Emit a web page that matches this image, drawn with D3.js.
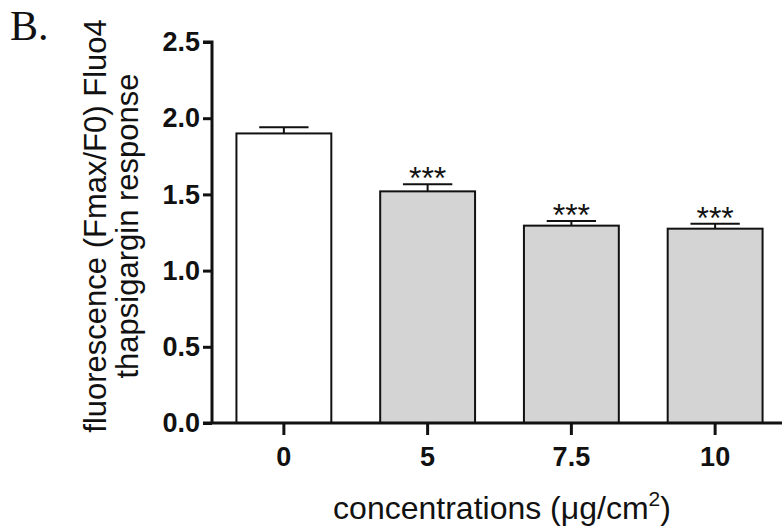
<!DOCTYPE html>
<html>
<head>
<meta charset="utf-8">
<script src="https://cdn.jsdelivr.net/npm/d3@7"></script>
<style>
  body { margin: 0; background: #fff; }
  svg { display: block; }
</style>
</head>
<body>
<div id="vis"></div>
<script>
// data
const concentrations = ["0", "5", "7.5", "10"];
const meanValues = [1.90, 1.52, 1.295, 1.275];
const semValues = [0.04, 0.046, 0.031, 0.033];
const significance = ["", "***", "***", "***"];
const yTicks = [0.0, 0.5, 1.0, 1.5, 2.0, 2.5];

const width = 782;
const height = 531;
const axisX = 212;
const axisY = 423;

const svg = d3.select("#vis")
  .append("svg")
  .attr("width", width)
  .attr("height", height);

// Scales
const x = d3.scaleBand()
  .domain(concentrations)
  .range([axisX, 787])
  .paddingInner(0.34)
  .paddingOuter(0.17);

const y = d3.scaleLinear()
  .domain([0, 2.5])
  .range([axisY, 42]);

// Bars
svg.append("g")
  .selectAll("rect")
  .data(meanValues)
  .enter()
  .append("rect")
  .attr("x", (d, i) => x(concentrations[i]))
  .attr("y", d => y(d))
  .attr("width", x.bandwidth())
  .attr("height", d => axisY - y(d))
  .attr("fill", (d, i) => i === 0 ? "#ffffff" : "#d4d4d4")
  .attr("stroke", "#111")
  .attr("stroke-width", 2);

// Error bars (upper only)
const capHalf = x.bandwidth() * 0.26;
const err = svg.append("g").attr("stroke", "#111").attr("stroke-width", 2);
meanValues.forEach((m, i) => {
  const cx = x(concentrations[i]) + x.bandwidth() / 2;
  err.append("line")
    .attr("x1", cx).attr("x2", cx)
    .attr("y1", y(m)).attr("y2", y(m + semValues[i]));
  err.append("line")
    .attr("x1", cx - capHalf).attr("x2", cx + capHalf)
    .attr("y1", y(m + semValues[i])).attr("y2", y(m + semValues[i]));
});

// Significance stars
svg.append("g")
  .selectAll("text")
  .data(significance)
  .enter()
  .append("text")
  .attr("x", (d, i) => x(concentrations[i]) + x.bandwidth() / 2)
  .attr("y", (d, i) => y(meanValues[i] + semValues[i]) + 5)
  .attr("text-anchor", "middle")
  .attr("font-family", "Liberation Sans, Arial, sans-serif")
  .attr("font-size", "32px")
  .attr("fill", "#111")
  .text(d => d);

// Y axis
const yAxis = svg.append("g")
  .attr("transform", `translate(${axisX},0)`)
  .call(d3.axisLeft(y).tickValues(yTicks).tickFormat(d3.format(".1f")).tickSize(9).tickPadding(3));
yAxis.select(".domain")
  .attr("d", `M-9,${y(2.5)}H0V${axisY}`)
  .attr("stroke", "#111")
  .attr("stroke-width", 3);
yAxis.selectAll(".tick line").attr("stroke", "#111").attr("stroke-width", 3);
yAxis.selectAll(".tick text")
  .attr("fill", "#111")
  .attr("font-family", "Liberation Sans, Arial, sans-serif")
  .attr("font-size", "27px")
  .attr("font-weight", "bold");

// X axis
const xAxis = svg.append("g")
  .attr("transform", `translate(0,${axisY})`)
  .call(d3.axisBottom(x).tickSize(12).tickPadding(12));
xAxis.select(".domain")
  .attr("d", `M${axisX - 9},0H${width}`)
  .attr("stroke", "#111")
  .attr("stroke-width", 3);
xAxis.selectAll(".tick line").attr("stroke", "#111").attr("stroke-width", 3);
xAxis.selectAll(".tick text")
  .attr("fill", "#111")
  .attr("font-family", "Liberation Sans, Arial, sans-serif")
  .attr("font-size", "27px")
  .attr("font-weight", "bold");

// X axis title
const xTitle = svg.append("text")
  .attr("x", 502)
  .attr("y", 519)
  .attr("text-anchor", "middle")
  .attr("font-family", "Liberation Sans, Arial, sans-serif")
  .attr("font-size", "32px")
  .attr("fill", "#111");
xTitle.append("tspan").text("concentrations (\u03bcg/cm");
xTitle.append("tspan").attr("dy", -13).attr("font-size", "21px").text("2");
xTitle.append("tspan").attr("dy", 13).text(")");

// Y axis title (two lines)
const yTitle = svg.append("text")
  .attr("transform", "rotate(-90)")
  .attr("text-anchor", "middle")
  .attr("font-family", "Liberation Sans, Arial, sans-serif")
  .attr("font-size", "31px")
  .attr("fill", "#111");
yTitle.append("tspan").attr("x", -226).attr("y", 106).text("fluorescence (Fmax/F0) Fluo4");
yTitle.append("tspan").attr("x", -226).attr("y", 138).text("thapsigargin response");

// Panel letter
svg.append("text")
  .attr("x", 10)
  .attr("y", 40)
  .attr("font-family", "Liberation Serif, Times New Roman, serif")
  .attr("font-size", "42px")
  .attr("fill", "#111")
  .text("B.");
</script>
</body>
</html>
